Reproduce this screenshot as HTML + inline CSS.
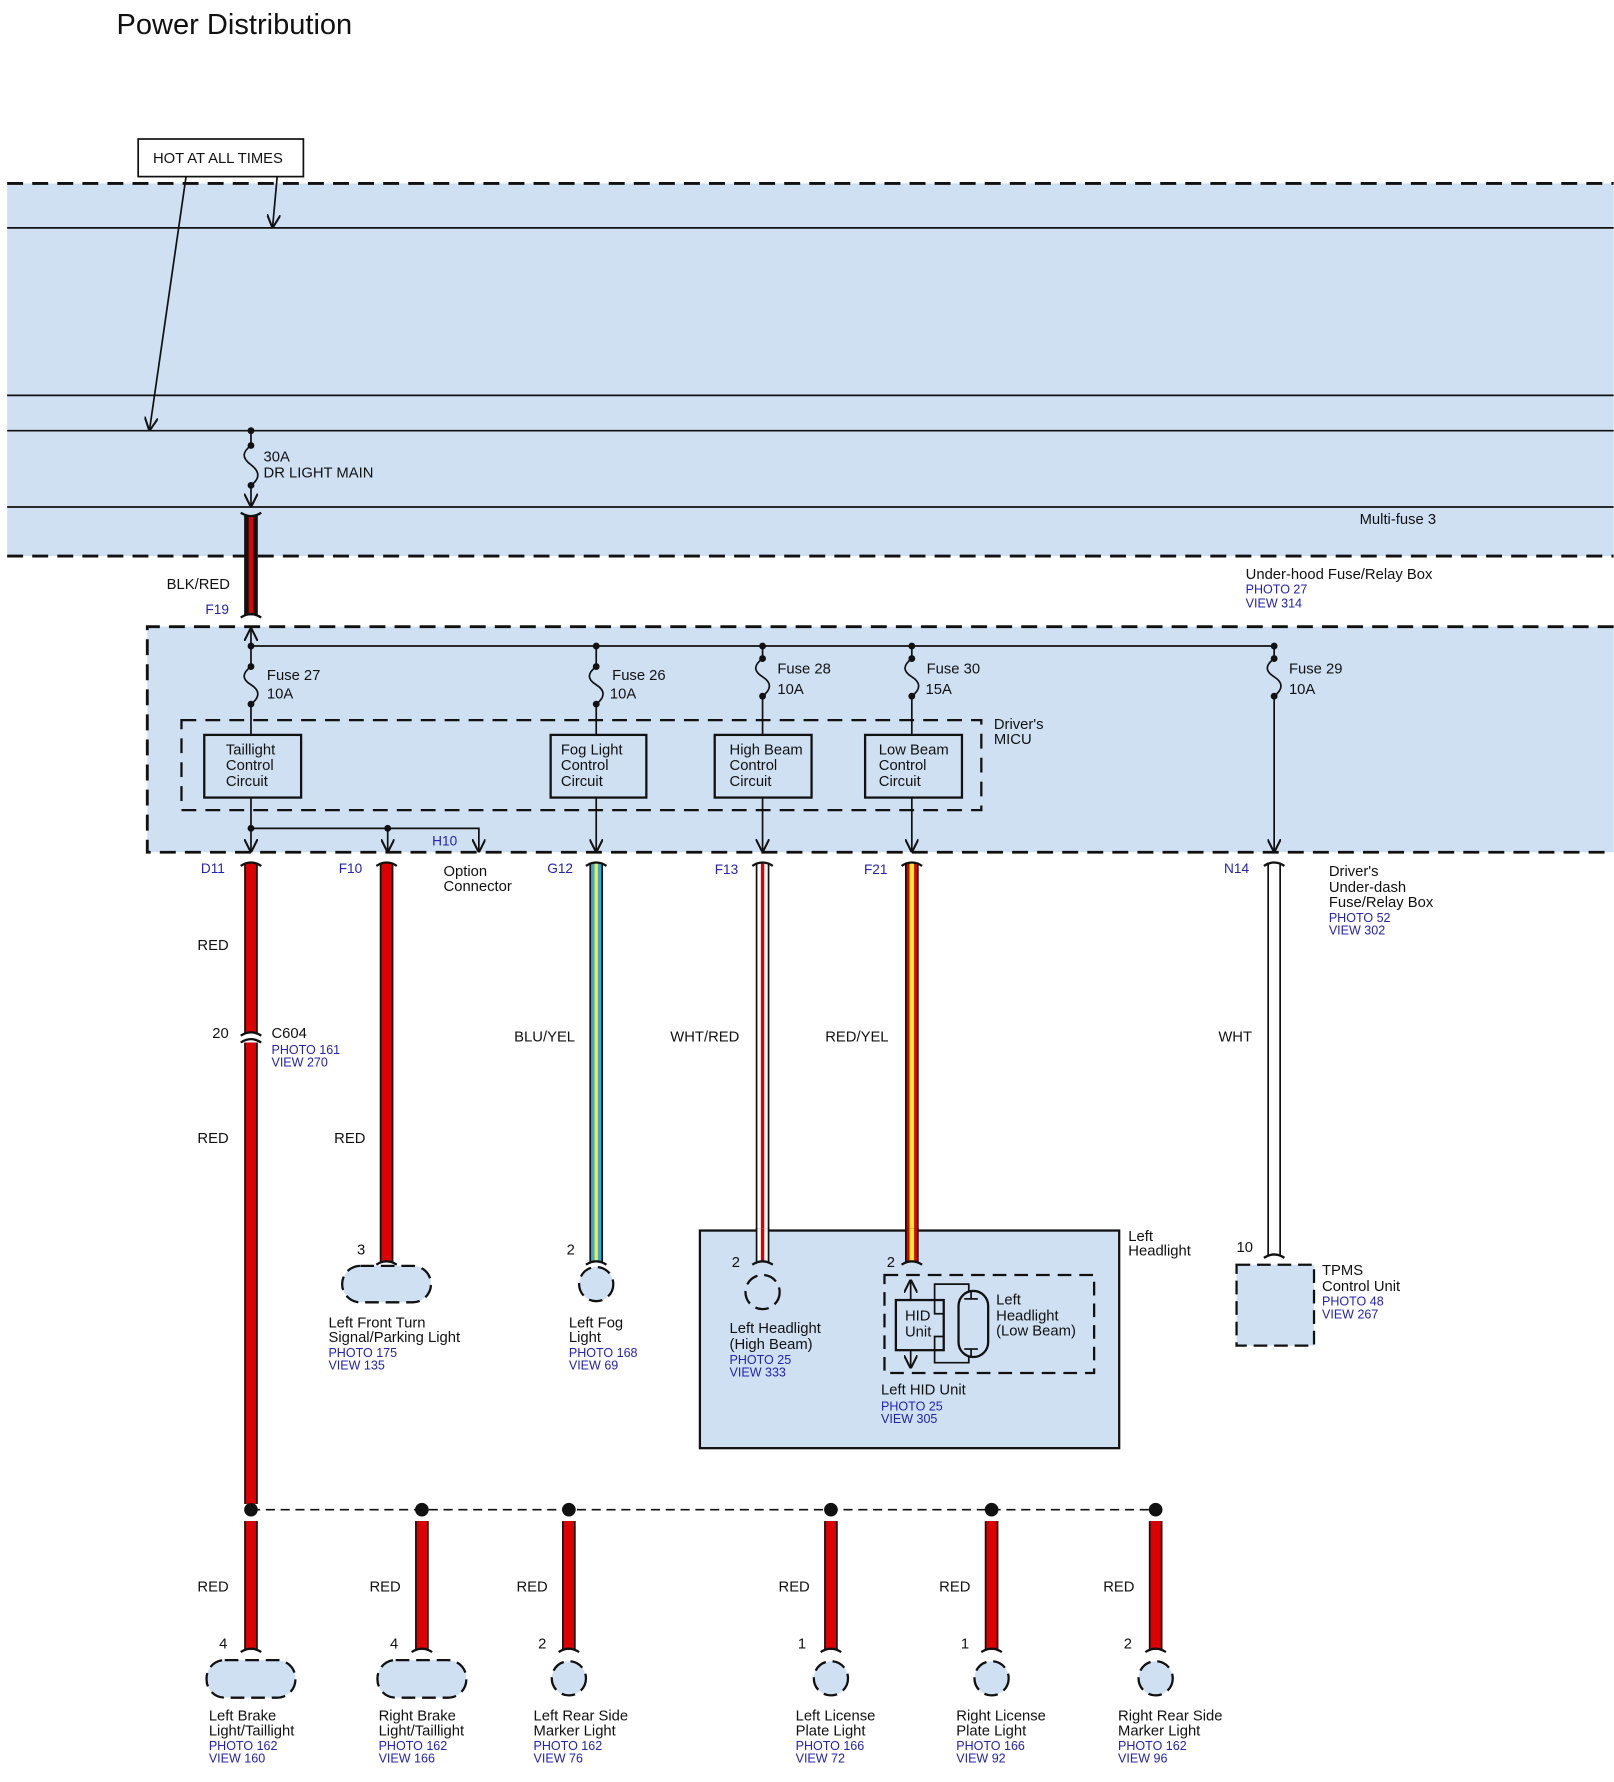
<!DOCTYPE html>
<html><head><meta charset="utf-8"><style>
html,body{margin:0;padding:0;background:#fff}
svg{display:block}
text{font-family:"Liberation Sans",Arial,sans-serif;font-size:13px;fill:#111}
.b{fill:#2323b0;font-size:11px}
.t{font-size:13px}
</style></head><body>
<svg width="1614" height="1782" viewBox="0 0 1416 1564" xmlns="http://www.w3.org/2000/svg">
<defs>
<marker id="ar" viewBox="0 0 10 10" refX="9" refY="5" markerWidth="8" markerHeight="8" orient="auto-start-reverse"><path d="M0,0 L10,5 L0,10" fill="none" stroke="#111" stroke-width="1.5"/></marker>
</defs>
<text x="102" y="30" style="font-size:25.5px">Power Distribution</text>
<rect x="121" y="122" width="145" height="33" fill="#fff" stroke="#111" stroke-width="1.5"/>
<text x="134" y="143">HOT AT ALL TIMES</text>

<rect x="6" y="161" width="1410" height="327" fill="#cfe0f3"/>
<g stroke="#111" stroke-width="2.5" stroke-dasharray="14,8"><line x1="6" y1="161" x2="1416" y2="161"/><line x1="6" y1="488" x2="1416" y2="488"/></g>
<g stroke="#111" stroke-width="1.5"><line x1="6" y1="200" x2="1416" y2="200"/><line x1="6" y1="347" x2="1416" y2="347"/><line x1="6" y1="378" x2="1416" y2="378"/><line x1="6" y1="445" x2="1416" y2="445"/></g>
<line x1="163" y1="155" x2="131" y2="377" stroke="#111" stroke-width="1.5" marker-end="url(#ar)"/>
<line x1="243" y1="155" x2="239" y2="199" stroke="#111" stroke-width="1.5" marker-end="url(#ar)"/>
<g stroke="#111" stroke-width="1.5" fill="none">
<line x1="220" y1="378" x2="220" y2="391"/>
<path d="M220,391 C212,397 212,402 220,408 C228,414 228,420 220,426"/>
<line x1="220" y1="426" x2="220" y2="444" marker-end="url(#ar)"/>
</g>
<g fill="#111"><circle cx="220" cy="378" r="3"/><circle cx="220" cy="391" r="3"/><circle cx="220" cy="426" r="3"/></g>
<text x="231" y="405">30A</text><text x="231" y="419">DR LIGHT MAIN</text>
<text x="1193" y="460">Multi-fuse 3</text>
<rect x="214" y="452" width="12" height="88" fill="#111"/><rect x="218" y="452" width="4" height="88" fill="#d00"/>
<g stroke="#111" stroke-width="2" fill="none"><path d="M211,450 Q220,456 229,450"/><path d="M211,542 Q220,536 229,542"/></g>
<text x="146" y="517">BLK/RED</text><text class="b" x="180" y="539" style="font-size:12px">F19</text>
<text x="1093" y="508">Under-hood Fuse/Relay Box</text><text class="b" x="1093" y="521">PHOTO 27</text><text class="b" x="1093" y="533">VIEW 314</text>

<rect x="129" y="550" width="1287" height="198" fill="#cfe0f3"/>
<g stroke="#111" stroke-width="2.5" stroke-dasharray="14,8" fill="none"><path d="M1416,550 H129 V748 H1416"/></g>
<rect x="159" y="632" width="702" height="79" fill="none" stroke="#111" stroke-width="2" stroke-dasharray="13,8"/>
<text x="872" y="640">Driver's</text><text x="872" y="653">MICU</text>
<g stroke="#111" stroke-width="1.5" fill="none">
<line x1="220" y1="567" x2="220" y2="552" marker-end="url(#ar)"/>
<line x1="220" y1="567" x2="1118" y2="567"/>
<path d="M220,567 V585 C212,591 212,596 220,601 C228,606 228,612 220,618 V645"/>
<path d="M523,567 V585 C515,591 515,596 523,601 C531,606 531,612 523,618 V645"/>
<path d="M669,567 V578 C661,584 661,589 669,594 C677,599 677,605 669,611 V645"/>
<path d="M800,567 V578 C792,584 792,589 800,594 C808,599 808,605 800,611 V645"/>
<path d="M1118,567 V578 C1110,584 1110,589 1118,594 C1126,599 1126,605 1118,611 V747" marker-end="url(#ar)"/>
<line x1="220" y1="700" x2="220" y2="747" marker-end="url(#ar)"/>
<line x1="523" y1="700" x2="523" y2="747" marker-end="url(#ar)"/>
<line x1="669" y1="700" x2="669" y2="747" marker-end="url(#ar)"/>
<line x1="800" y1="700" x2="800" y2="747" marker-end="url(#ar)"/>
<path d="M220,727 H420 V747" marker-end="url(#ar)"/>
<line x1="340" y1="727" x2="340" y2="747" marker-end="url(#ar)"/>
</g>
<g fill="#111">
<circle cx="220" cy="567" r="3"/><circle cx="523" cy="567" r="3"/><circle cx="669" cy="567" r="3"/><circle cx="800" cy="567" r="3"/><circle cx="1118" cy="567" r="3"/>
<circle cx="220" cy="585" r="3"/><circle cx="220" cy="618" r="3"/><circle cx="523" cy="585" r="3"/><circle cx="523" cy="618" r="3"/>
<circle cx="669" cy="578" r="3"/><circle cx="669" cy="611" r="3"/><circle cx="800" cy="578" r="3"/><circle cx="800" cy="611" r="3"/><circle cx="1118" cy="578" r="3"/><circle cx="1118" cy="611" r="3"/>
<circle cx="220" cy="727" r="3"/><circle cx="340" cy="727" r="3"/>
</g>
<text x="234" y="597">Fuse 27</text><text x="234" y="613">10A</text>
<text x="537" y="597">Fuse 26</text><text x="535" y="613">10A</text>
<text x="682" y="591">Fuse 28</text><text x="682" y="609">10A</text>
<text x="813" y="591">Fuse 30</text><text x="812" y="609">15A</text>
<text x="1131" y="591">Fuse 29</text><text x="1131" y="609">10A</text>
<g fill="#cfe0f3" stroke="#111" stroke-width="2">
<rect x="179" y="645" width="85" height="55"/><rect x="483" y="645" width="84" height="55"/><rect x="627" y="645" width="85" height="55"/><rect x="759" y="645" width="85" height="55"/>
</g>
<text x="198" y="662">Taillight</text><text x="198" y="676">Control</text><text x="198" y="690">Circuit</text>
<text x="492" y="662">Fog Light</text><text x="492" y="676">Control</text><text x="492" y="690">Circuit</text>
<text x="640" y="662">High Beam</text><text x="640" y="676">Control</text><text x="640" y="690">Circuit</text>
<text x="771" y="662">Low Beam</text><text x="771" y="676">Control</text><text x="771" y="690">Circuit</text>
<text class="b" x="379" y="742" style="font-size:12px">H10</text>

<text class="b" x="176" y="766" style="font-size:12px">D11</text>
<text class="b" x="297" y="766" style="font-size:12px">F10</text>
<text x="389" y="769">Option</text><text x="389" y="782">Connector</text>
<text class="b" x="480" y="766" style="font-size:12px">G12</text>
<text class="b" x="627" y="767" style="font-size:12px">F13</text>
<text class="b" x="758" y="767" style="font-size:12px">F21</text>
<text class="b" x="1074" y="766" style="font-size:12px">N14</text>
<text x="1166" y="769">Driver's</text><text x="1166" y="783">Under-dash</text><text x="1166" y="796">Fuse/Relay Box</text>
<text class="b" x="1166" y="809">PHOTO 52</text><text class="b" x="1166" y="820">VIEW 302</text>

<rect x="214" y="757" width="12" height="150" fill="#111"/><rect x="215.5" y="757" width="9" height="150" fill="#d00"/>
<rect x="214" y="915" width="12" height="405" fill="#111"/><rect x="215.5" y="915" width="9" height="405" fill="#d00"/>
<rect x="333" y="757" width="12" height="351" fill="#111"/><rect x="334.5" y="757" width="9" height="351" fill="#d00"/>
<rect x="517" y="757" width="12" height="351" fill="#111"/><rect x="518.5" y="757" width="9" height="351" fill="#3aa7dc"/><rect x="521.5" y="757" width="3" height="351" fill="#f3ee2a"/>
<rect x="663" y="757" width="12" height="351" fill="#111"/><rect x="664.5" y="757" width="9" height="351" fill="#fff"/><rect x="667.5" y="757" width="3" height="351" fill="#d00"/>
<rect x="794" y="757" width="12" height="351" fill="#111"/><rect x="795.5" y="757" width="9" height="351" fill="#d00"/><rect x="798" y="757" width="4" height="351" fill="#f3ee2a"/>
<rect x="1112" y="757" width="12" height="345" fill="#111"/><rect x="1113.5" y="757" width="9" height="345" fill="#fff"/>
<g stroke="#111" stroke-width="2" fill="none">
<path d="M211,760 Q220,754 229,760"/><path d="M330,760 Q339,754 348,760"/><path d="M514,760 Q523,754 532,760"/><path d="M660,760 Q669,754 678,760"/><path d="M791,760 Q800,754 809,760"/><path d="M1109,760 Q1118,754 1127,760"/>
<path d="M211,909 Q220,903 229,909"/><path d="M211,915 Q220,909 229,915"/>
<path d="M330,1110 Q339,1104 348,1110"/><path d="M514,1110 Q523,1104 532,1110"/><path d="M660,1110 Q669,1104 678,1110"/><path d="M791,1110 Q800,1104 809,1110"/><path d="M1109,1104 Q1118,1098 1127,1104"/>
</g>
<text x="173" y="834">RED</text><text x="186" y="911">20</text>
<text x="238" y="911">C604</text><text class="b" x="238" y="925">PHOTO 161</text><text class="b" x="238" y="936">VIEW 270</text>
<text x="173" y="1003">RED</text><text x="293" y="1003">RED</text>
<text x="451" y="914">BLU/YEL</text><text x="588" y="914">WHT/RED</text><text x="724" y="914">RED/YEL</text><text x="1069" y="914">WHT</text>

<text x="313" y="1101">3</text>
<rect x="300" y="1111" width="78" height="32" rx="16" fill="#cfe0f3" stroke="#111" stroke-width="2" stroke-dasharray="12,6"/>
<text x="288" y="1165">Left Front Turn</text><text x="288" y="1178">Signal/Parking Light</text><text class="b" x="288" y="1191">PHOTO 175</text><text class="b" x="288" y="1202">VIEW 135</text>
<text x="497" y="1101">2</text>
<circle cx="523" cy="1127" r="15" fill="#cfe0f3" stroke="#111" stroke-width="2" stroke-dasharray="12,6"/>
<text x="499" y="1165">Left Fog</text><text x="499" y="1178">Light</text><text class="b" x="499" y="1191">PHOTO 168</text><text class="b" x="499" y="1202">VIEW 69</text>

<rect x="614" y="1080" width="368" height="191" fill="#cfe0f3" stroke="#111" stroke-width="2"/>
<text x="990" y="1089">Left</text><text x="990" y="1102">Headlight</text>
<rect x="663" y="1078" width="12" height="30" fill="#111"/><rect x="664.5" y="1078" width="9" height="30" fill="#fff"/><rect x="667.5" y="1078" width="3" height="30" fill="#d00"/>
<rect x="794" y="1078" width="12" height="30" fill="#111"/><rect x="795.5" y="1078" width="9" height="30" fill="#d00"/><rect x="798" y="1078" width="4" height="30" fill="#f3ee2a"/>
<g stroke="#111" stroke-width="2" fill="none"><path d="M660,1110 Q669,1104 678,1110"/><path d="M791,1110 Q800,1104 809,1110"/></g>
<text x="642" y="1112">2</text>
<circle cx="669" cy="1134" r="15" fill="#cfe0f3" stroke="#111" stroke-width="2" stroke-dasharray="12,6"/>
<text x="640" y="1170">Left Headlight</text><text x="640" y="1184">(High Beam)</text><text class="b" x="640" y="1197">PHOTO 25</text><text class="b" x="640" y="1208">VIEW 333</text>
<text x="778" y="1112">2</text>
<rect x="776" y="1119" width="184" height="86" fill="none" stroke="#111" stroke-width="2" stroke-dasharray="12,7"/>
<rect x="786" y="1141" width="42" height="44" fill="#cfe0f3" stroke="#111" stroke-width="2"/>
<text x="794" y="1159">HID</text><text x="794" y="1173">Unit</text>
<g stroke="#111" stroke-width="1.5" fill="none">
<line x1="799" y1="1141" x2="799" y2="1124" marker-end="url(#ar)"/>
<line x1="799" y1="1185" x2="799" y2="1200" marker-end="url(#ar)"/>
<path d="M828,1153 H820 V1127 H850 V1133"/><path d="M828,1173 H820 V1196 H850 V1190"/>
<rect x="841" y="1133" width="26" height="58" rx="13" stroke-width="2"/>
<line x1="846" y1="1140" x2="858" y2="1140"/><line x1="852" y1="1140" x2="852" y2="1133"/>
<line x1="846" y1="1184" x2="858" y2="1184"/><line x1="852" y1="1184" x2="852" y2="1191"/>
</g>
<text x="874" y="1145">Left</text><text x="874" y="1159">Headlight</text><text x="874" y="1172">(Low Beam)</text>
<text x="773" y="1224">Left HID Unit</text><text class="b" x="773" y="1238">PHOTO 25</text><text class="b" x="773" y="1249">VIEW 305</text>

<text x="1085" y="1099">10</text>
<rect x="1085" y="1110" width="68" height="71" fill="#cfe0f3" stroke="#111" stroke-width="2" stroke-dasharray="12,6"/>
<text x="1160" y="1119">TPMS</text><text x="1160" y="1133">Control Unit</text><text class="b" x="1160" y="1146">PHOTO 48</text><text class="b" x="1160" y="1157">VIEW 267</text>

<line x1="220" y1="1325" x2="1014" y2="1325" stroke="#111" stroke-width="1.5" stroke-dasharray="8,5"/>
<g fill="#111"><circle cx="220" cy="1325" r="6"/><circle cx="370" cy="1325" r="6"/><circle cx="499" cy="1325" r="6"/><circle cx="729" cy="1325" r="6"/><circle cx="870" cy="1325" r="6"/><circle cx="1014" cy="1325" r="6"/></g>
<g>
<rect x="214" y="1335" width="12" height="113" fill="#111"/><rect x="215.5" y="1335" width="9" height="113" fill="#d00"/>
<rect x="364" y="1335" width="12" height="113" fill="#111"/><rect x="365.5" y="1335" width="9" height="113" fill="#d00"/>
<rect x="493" y="1335" width="12" height="113" fill="#111"/><rect x="494.5" y="1335" width="9" height="113" fill="#d00"/>
<rect x="723" y="1335" width="12" height="113" fill="#111"/><rect x="724.5" y="1335" width="9" height="113" fill="#d00"/>
<rect x="864" y="1335" width="12" height="113" fill="#111"/><rect x="865.5" y="1335" width="9" height="113" fill="#d00"/>
<rect x="1008" y="1335" width="12" height="113" fill="#111"/><rect x="1009.5" y="1335" width="9" height="113" fill="#d00"/>
</g>
<g stroke="#111" stroke-width="2" fill="none">
<path d="M211,1450 Q220,1444 229,1450"/><path d="M361,1450 Q370,1444 379,1450"/><path d="M490,1450 Q499,1444 508,1450"/><path d="M720,1450 Q729,1444 738,1450"/><path d="M861,1450 Q870,1444 879,1450"/><path d="M1005,1450 Q1014,1444 1023,1450"/>
</g>
<text x="173" y="1397">RED</text><text x="324" y="1397">RED</text><text x="453" y="1397">RED</text><text x="683" y="1397">RED</text><text x="824" y="1397">RED</text><text x="968" y="1397">RED</text>
<text x="192" y="1447">4</text><text x="342" y="1447">4</text><text x="472" y="1447">2</text><text x="700" y="1447">1</text><text x="843" y="1447">1</text><text x="986" y="1447">2</text>
<g fill="#cfe0f3" stroke="#111" stroke-width="2" stroke-dasharray="12,6">
<rect x="181" y="1457" width="78" height="33" rx="16"/><rect x="331" y="1457" width="78" height="33" rx="16"/>
<circle cx="499" cy="1473" r="15"/><circle cx="729" cy="1473" r="15"/><circle cx="870" cy="1473" r="15"/><circle cx="1014" cy="1473" r="15"/>
</g>
<text x="183" y="1510">Left Brake</text><text x="183" y="1523">Light/Taillight</text><text class="b" x="183" y="1536">PHOTO 162</text><text class="b" x="183" y="1547">VIEW 160</text>
<text x="332" y="1510">Right Brake</text><text x="332" y="1523">Light/Taillight</text><text class="b" x="332" y="1536">PHOTO 162</text><text class="b" x="332" y="1547">VIEW 166</text>
<text x="468" y="1510">Left Rear Side</text><text x="468" y="1523">Marker Light</text><text class="b" x="468" y="1536">PHOTO 162</text><text class="b" x="468" y="1547">VIEW 76</text>
<text x="698" y="1510">Left License</text><text x="698" y="1523">Plate Light</text><text class="b" x="698" y="1536">PHOTO 166</text><text class="b" x="698" y="1547">VIEW 72</text>
<text x="839" y="1510">Right License</text><text x="839" y="1523">Plate Light</text><text class="b" x="839" y="1536">PHOTO 166</text><text class="b" x="839" y="1547">VIEW 92</text>
<text x="981" y="1510">Right Rear Side</text><text x="981" y="1523">Marker Light</text><text class="b" x="981" y="1536">PHOTO 162</text><text class="b" x="981" y="1547">VIEW 96</text>
</svg>
</body></html>
